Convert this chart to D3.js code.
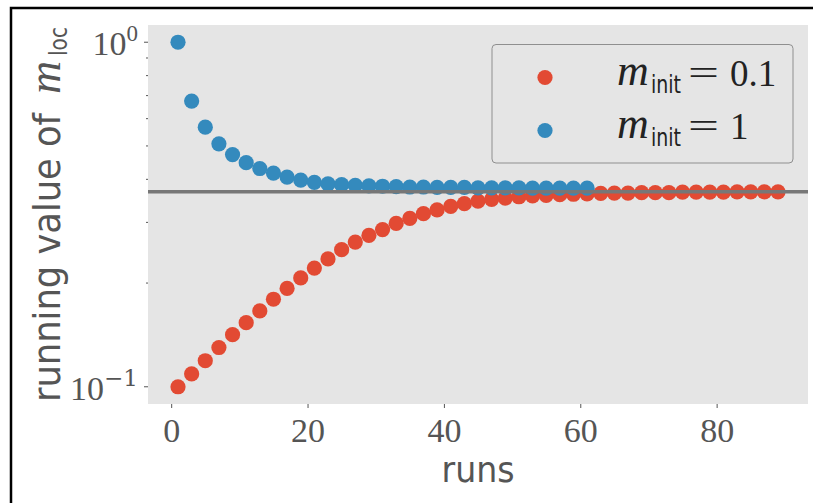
<!DOCTYPE html>
<html>
<head>
<meta charset="utf-8">
<script src="https://cdn.jsdelivr.net/npm/d3@7"></script>
<style>
  body { margin: 0; background: #fff; }
  svg { display: block; }
</style>
</head>
<body>
<svg id="chart" width="813" height="503"></svg>
<script>
// runs (x) and running values of m_loc for the two starting values
var runsInit01 = [1, 3, 5, 7, 9, 11, 13, 15, 17, 19, 21, 23, 25, 27, 29, 31, 33, 35, 37, 39,
  41, 43, 45, 47, 49, 51, 53, 55, 57, 59, 61, 63, 65, 67, 69, 71, 73, 75, 77, 79,
  81, 83, 85, 87, 89];
var mInit01 = [0.100, 0.109, 0.119, 0.130, 0.1416, 0.1535, 0.166, 0.1795, 0.193, 0.207,
  0.221, 0.235, 0.250, 0.263, 0.275, 0.286, 0.298, 0.308, 0.318, 0.326,
  0.334, 0.340, 0.346, 0.350, 0.353, 0.356, 0.358, 0.3595, 0.361, 0.362,
  0.363, 0.364, 0.365, 0.365, 0.366, 0.366, 0.366, 0.367, 0.367, 0.367,
  0.367, 0.368, 0.368, 0.368, 0.368];

var runsInit1 = [1, 3, 5, 7, 9, 11, 13, 15, 17, 19, 21, 23, 25, 27, 29, 31, 33, 35, 37, 39,
  41, 43, 45, 47, 49, 51, 53, 55, 57, 59, 61];
var mInit1 = [1.0, 0.675, 0.567, 0.507, 0.472, 0.447, 0.430, 0.417, 0.406, 0.398,
  0.392, 0.388, 0.386, 0.384, 0.383, 0.382, 0.381, 0.380, 0.380, 0.379,
  0.379, 0.379, 0.378, 0.378, 0.378, 0.378, 0.377, 0.377, 0.377, 0.377, 0.377];

var refLine = 0.3679; // 1/e

var xTicks = [0, 20, 40, 60, 80];
var yMajor = [0.1, 1];
var yMajorExp = ["\u22121", "0"];
var yMinor = [0.2, 0.3, 0.4, 0.5, 0.6, 0.7, 0.8, 0.9];

var legendLabels = ["0.1", "1"];

var RED = "#E24A33", BLUE = "#348ABD", TXT = "#555555";
var serif = "'Liberation Serif', 'DejaVu Serif', serif";
var mathIt = "'Liberation Serif', serif";
var symb = "'DejaVu Serif', serif";
var sans = "'DejaVu Sans Condensed', 'DejaVu Sans', sans-serif";

var svg = d3.select("#chart");

// figure frame (only top/left edges visible in the crop)
svg.append("rect")
  .attr("x", 11).attr("y", 8)
  .attr("width", 1000).attr("height", 800)
  .attr("fill", "none")
  .attr("stroke", "#000")
  .attr("stroke-width", 2.5);

var plot = {left: 148, right: 808, top: 25, bottom: 404};

var x = d3.scaleLinear().domain([-3.4, 93.4]).range([plot.left, plot.right]);
var y = d3.scaleLog().domain([Math.pow(10, -1.05), Math.pow(10, 0.05)]).range([plot.bottom, plot.top]);

svg.append("rect")
  .attr("x", plot.left).attr("y", plot.top)
  .attr("width", plot.right - plot.left)
  .attr("height", plot.bottom - plot.top)
  .attr("fill", "#E5E5E5");

// x axis
var xAxis = svg.append("g")
  .attr("transform", "translate(0," + plot.bottom + ")")
  .call(d3.axisBottom(x).tickValues(xTicks).tickSize(4).tickSizeOuter(0).tickPadding(10));
xAxis.select(".domain").remove();
xAxis.selectAll("line").attr("stroke", TXT);
xAxis.selectAll("text")
  .attr("fill", TXT)
  .style("font-family", serif)
  .style("font-size", "34px");

// y axis ticks
var yg = svg.append("g");
yg.selectAll(".minor").data(yMinor).enter().append("line")
  .attr("x1", plot.left - 2).attr("x2", plot.left)
  .attr("y1", d => y(d)).attr("y2", d => y(d))
  .attr("stroke", TXT);
yg.selectAll(".major").data(yMajor).enter().append("line")
  .attr("x1", plot.left - 4).attr("x2", plot.left)
  .attr("y1", d => y(d)).attr("y2", d => y(d))
  .attr("stroke", TXT);
var ylab = yg.selectAll(".ylab").data(yMajor).enter().append("text")
  .attr("x", 138)
  .attr("y", d => y(d) + 13)
  .attr("text-anchor", "end")
  .attr("fill", TXT)
  .style("font-family", serif);
ylab.append("tspan").style("font-size", "34px").text("10");
ylab.append("tspan")
  .attr("dy", -14)
  .style("font-size", "23px")
  .style("font-family", (d, i) => i === 0 ? symb : serif)
  .text((d, i) => yMajorExp[i]);

// scatter: red first, blue over it
svg.append("g").selectAll("circle").data(mInit01).enter().append("circle")
  .attr("cx", (d, i) => x(runsInit01[i]))
  .attr("cy", d => y(d))
  .attr("r", 7.6)
  .attr("fill", RED);
svg.append("g").selectAll("circle").data(mInit1).enter().append("circle")
  .attr("cx", (d, i) => x(runsInit1[i]))
  .attr("cy", d => y(d))
  .attr("r", 7.6)
  .attr("fill", BLUE);

// reference line
svg.append("line")
  .attr("x1", plot.left).attr("x2", plot.right)
  .attr("y1", y(refLine)).attr("y2", y(refLine))
  .attr("stroke", "#777777")
  .attr("stroke-width", 3.5);

// legend
var lg = svg.append("g");
lg.append("rect")
  .attr("x", 492).attr("y", 44.5)
  .attr("width", 301).attr("height", 118.5)
  .attr("rx", 4)
  .attr("fill", "#E5E5E5")
  .attr("stroke", "#8f8f8f")
  .attr("stroke-width", 1);
var rows = lg.selectAll(".row").data(legendLabels).enter().append("g")
  .attr("transform", (d, i) => "translate(0," + (i * 53) + ")");
rows.append("circle")
  .attr("cx", 545).attr("cy", 77.5)
  .attr("r", 7.6)
  .attr("fill", (d, i) => i === 0 ? RED : BLUE);
rows.append("text")
  .attr("x", 617).attr("y", 85)
  .style("font-family", mathIt)
  .style("font-style", "italic")
  .style("font-size", "44px")
  .attr("fill", "#222")
  .text("m");
rows.append("text")
  .attr("x", 651).attr("y", 93)
  .style("font-family", sans)
  .style("font-size", "24px")
  .attr("textLength", 30)
  .attr("lengthAdjust", "spacingAndGlyphs")
  .attr("fill", "#222")
  .text("init");
rows.append("text")
  .attr("x", 688).attr("y", 85)
  .style("font-family", serif)
  .style("font-size", "36px")
  .attr("textLength", 31)
  .attr("lengthAdjust", "spacingAndGlyphs")
  .attr("fill", "#222")
  .text("=");
rows.append("text")
  .attr("x", 730).attr("y", 86)
  .style("font-family", serif)
  .style("font-size", "37px")
  .attr("fill", "#222")
  .text(d => d);

// axis labels
svg.append("text")
  .attr("x", (plot.left + plot.right) / 2)
  .attr("y", 482)
  .attr("text-anchor", "middle")
  .attr("fill", TXT)
  .style("font-family", sans)
  .style("font-size", "36px")
  .attr("textLength", 73)
  .attr("lengthAdjust", "spacingAndGlyphs")
  .text("runs");

var yl = svg.append("g").attr("transform", "translate(60,402) rotate(-90)");
yl.append("text")
  .attr("x", 0).attr("y", 0)
  .attr("fill", TXT)
  .style("font-family", sans)
  .style("font-size", "38px")
  .attr("textLength", 289)
  .attr("lengthAdjust", "spacingAndGlyphs")
  .text("running value of");
yl.append("text")
  .attr("x", 308).attr("y", 0)
  .attr("fill", TXT)
  .style("font-family", mathIt)
  .style("font-style", "italic")
  .style("font-size", "46px")
  .text("m");
yl.append("text")
  .attr("x", 346).attr("y", 7)
  .attr("fill", TXT)
  .style("font-family", sans)
  .style("font-size", "25px")
  .attr("textLength", 29)
  .attr("lengthAdjust", "spacingAndGlyphs")
  .text("loc");
</script>
</body>
</html>
